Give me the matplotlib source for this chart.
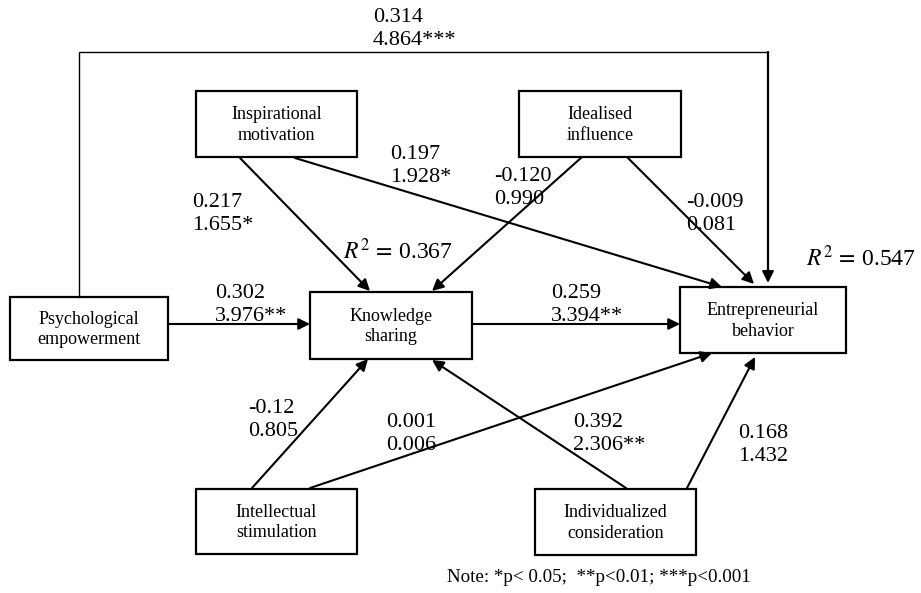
"""
Structural path model: transformational leadership, psychological empowerment,
knowledge sharing and entrepreneurial behavior (path coefficients and t-values).
"""

import matplotlib.pyplot as plt
from matplotlib.patches import Rectangle

plt.rcParams["font.family"] = ["Liberation Serif", "DejaVu Serif"]
plt.rcParams["mathtext.fontset"] = "stix"

# Constructs
nodes = [
    "Inspirational\nmotivation",
    "Idealised\ninfluence",
    "Psychological\nempowerment",
    "Knowledge\nsharing",
    "Entrepreneurial\nbehavior",
    "Intellectual\nstimulation",
    "Individualized\nconsideration",
]

# Paths: source, target, coefficient, t-value label
path_src = ["PE", "IM", "IM", "II", "II", "PE", "KS", "IS", "IS", "IC", "IC"]
path_dst = ["KS", "KS", "EB", "KS", "EB", "EB", "EB", "KS", "EB", "KS", "EB"]
path_coef = ["0.302", "0.217", "0.197", "-0.120", "-0.009", "0.314", "0.259",
             "-0.12", "0.001", "0.392", "0.168"]
path_t = ["3.976**", "1.655*", "1.928*", "0.990", "0.081", "4.864***", "3.394**",
          "0.805", "0.006", "2.306**", "1.432"]

r2_ks = "0.367"
r2_eb = "0.547"
note = "Note: *p< 0.05;  **p<0.01; ***p<0.001"

# Layout in pixel coordinates (x0, y0, x1, y1), y grows downward
keys = ["IM", "II", "PE", "KS", "EB", "IS", "IC"]
box = {
    "IM": (196, 91, 357, 157),
    "II": (519, 91, 681, 157),
    "PE": (10, 297, 168, 360),
    "KS": (310, 292, 472, 359),
    "EB": (680, 287, 846, 353),
    "IS": (196, 489, 357, 554),
    "IC": (535, 489, 696, 555),
}
# arrow endpoints (start, end) for each path
ends = {
    ("PE", "KS"): ((168, 324), (310, 324)),
    ("IM", "KS"): ((240, 158), (370, 291)),
    ("IM", "EB"): ((295, 158), (722, 287)),
    ("II", "KS"): ((582, 157), (432, 291)),
    ("II", "EB"): ((627, 157), (754, 284)),
    ("KS", "EB"): ((472, 324), (680, 324)),
    ("IS", "KS"): ((252, 488), (368, 359)),
    ("IS", "EB"): ((310, 488), (712, 353)),
    ("IC", "KS"): ((626, 488), (432, 360)),
    ("IC", "EB"): ((687, 488), (755, 357)),
}
# label anchor (left, top) for each path
label_pos = {
    ("PE", "KS"): (215, 284),
    ("IM", "KS"): (192, 193),
    ("IM", "EB"): (390, 145),
    ("II", "KS"): (494, 167),
    ("II", "EB"): (686, 193),
    ("PE", "EB"): (373, 8),
    ("KS", "EB"): (551, 284),
    ("IS", "KS"): (248, 399),
    ("IS", "EB"): (386, 413),
    ("IC", "KS"): (573, 413),
    ("IC", "EB"): (738, 424),
}

fig = plt.figure(figsize=(9.21, 5.93), dpi=100)
ax = fig.add_axes([0, 0, 1, 1])
ax.set_xlim(0, 921)
ax.set_ylim(593, 0)
ax.axis("off")

for key, name in zip(keys, nodes):
    x0, y0, x1, y1 = box[key]
    ax.add_patch(Rectangle((x0, y0), x1 - x0, y1 - y0, fill=False,
                           edgecolor="black", linewidth=1.6))
    ax.text((x0 + x1) / 2, (y0 + y1) / 2 + 1, name, ha="center", va="center",
            fontsize=13, linespacing=1.3)

arrow_kw = dict(arrowstyle="-|>", color="black", lw=1.5,
                mutation_scale=17, shrinkA=0, shrinkB=0)

for src, dst, coef, tval in zip(path_src, path_dst, path_coef, path_t):
    if (src, dst) == ("PE", "EB"):
        # routed connector over the top of the diagram
        px = 79
        ex = 768
        ax.plot([px, px, ex], [297, 52, 52], color="black", lw=1.0,
                solid_joinstyle="miter")
        ax.annotate("", xy=(ex, 283), xytext=(ex, 52),
                    arrowprops=dict(arrow_kw, lw=1.6))
    else:
        (sx, sy), (tx, ty) = ends[(src, dst)]
        ax.annotate("", xy=(tx, ty), xytext=(sx, sy), arrowprops=arrow_kw)
    lx, ly = label_pos[(src, dst)]
    ax.text(lx, ly, f"{coef}\n{tval}", ha="left", va="top",
            fontsize=16, linespacing=1.3)

ax.text(343, 251, r"$R^2\,=\,$" + r2_ks, ha="left", va="center",
        fontsize=17)
ax.text(806, 258, r"$R^2\,=\,$" + r2_eb, ha="left", va="center",
        fontsize=17)
ax.text(447, 578, note, ha="left", va="center", fontsize=13.7)

fig.savefig("out.png", dpi=100)
plt.close(fig)
